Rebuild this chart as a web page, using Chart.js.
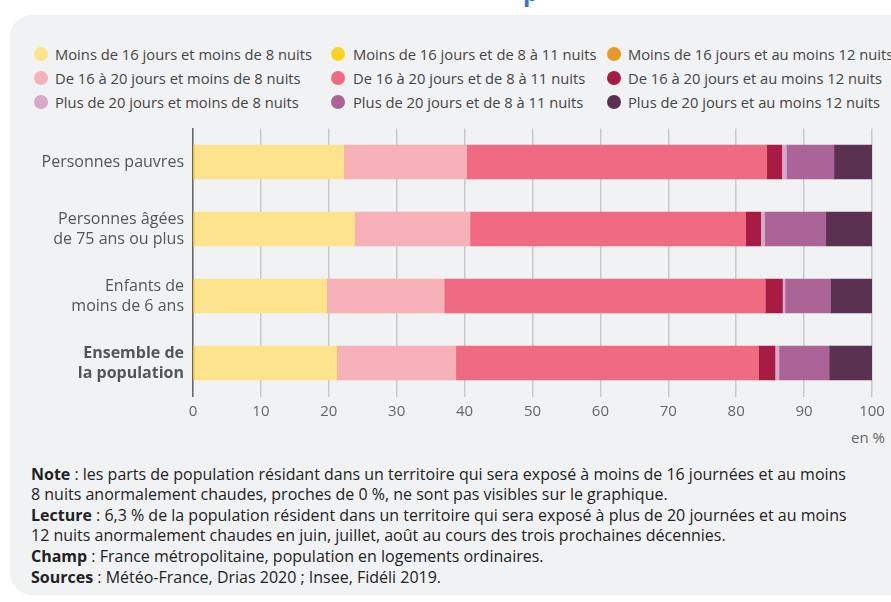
<!DOCTYPE html>
<html lang="fr">
<head>
  <meta charset="UTF-8">
  <title>Exposition aux journées et nuits anormalement chaudes</title>
  <script src="https://cdn.jsdelivr.net/npm/chart.js"></script>
  <style>
    body { margin: 0; width: 891px; height: 602px; overflow: hidden; background: #fff;
           font-family: "Open Sans", sans-serif; position: relative; }
    #panel { position: absolute; left: 10px; top: 15px; width: 920px; height: 580px;
             background: #f1f2f4; border-radius: 22px; }
    #titleBit { position: absolute; left: 523px; top: -25px; font-size: 24px; font-weight: bold; color: #3b74c6; }
    .leg { position: absolute; height: 20px; line-height: 20px; white-space: nowrap; color: #444; font-size: 15px; }
    .leg .dot { position: absolute; width: 14px; height: 14px; border-radius: 50%; top: 3px; }
    .leg .txt, .note .txt { display: inline-block; transform-origin: left center; }
    .leg .txt { position: absolute; }
    #chartBox { position: absolute; left: 0; top: 120px; }
    #unit { position: absolute; right: 6px; top: 427px; font-size: 15px; color: #666; }
    .note { position: absolute; left: 31px; white-space: nowrap; font-size: 15.5px; color: #222; height: 20px; line-height: 20px; }
  </style>
</head>
<body>
<div id="panel"></div>
<div id="titleBit">p</div>
<div id="legend"></div>
<div id="chartBox"><canvas id="chart" width="891" height="300"></canvas></div>
<div id="unit">en %</div>
<div id="notes"></div>

<script>
  // categories (top to bottom)
  var categories = [
    ['Personnes pauvres'],
    ['Personnes âgées', 'de 75 ans ou plus'],
    ['Enfants de', 'moins de 6 ans'],
    ['Ensemble de', 'la population']
  ];

  // series, in legend order (values in %)
  var seriesLabels = [
    'Moins de 16 jours et moins de 8 nuits',
    'Moins de 16 jours et de 8 à 11 nuits',
    'Moins de 16 jours et au moins 12 nuits',
    'De 16 à 20 jours et moins de 8 nuits',
    'De 16 à 20 jours et de 8 à 11 nuits',
    'De 16 à 20 jours et au moins 12 nuits',
    'Plus de 20 jours et moins de 8 nuits',
    'Plus de 20 jours et de 8 à 11 nuits',
    'Plus de 20 jours et au moins 12 nuits'
  ];
  var seriesColors = ['#fde38e', '#f9d423', '#e89a25', '#f7b1b9', '#f06a82', '#a81b42', '#d9a7c8', '#ab6497', '#5b3152'];

  var moins16Moins8 = [22.0, 23.6, 19.5, 21.0];
  var moins16De8a11 = [0.2, 0.2, 0.2, 0.2];
  var moins16Plus12 = [0, 0, 0, 0];
  var de16a20Moins8 = [18.1, 17.0, 17.3, 17.5];
  var de16a20De8a11 = [44.2, 40.6, 47.3, 44.6];
  var de16a20Plus12 = [2.2, 2.2, 2.5, 2.4];
  var plus20Moins8 = [0.7, 0.6, 0.4, 0.6];
  var plus20De8a11 = [7.0, 9.0, 6.7, 7.4];
  var plus20Plus12 = [5.6, 6.8, 6.1, 6.3];

  var seriesValues = [moins16Moins8, moins16De8a11, moins16Plus12, de16a20Moins8, de16a20De8a11,
                      de16a20Plus12, plus20Moins8, plus20De8a11, plus20Plus12];

  // the thin gold sliver sits at the very left of each bar
  var stackOrder = [1, 0, 2, 3, 4, 5, 6, 7, 8];

  var xTicks = [0, 10, 20, 30, 40, 50, 60, 70, 80, 90, 100];

  // html legend, 3 columns
  var legendCols = [[41, 55], [338, 353], [614, 628]];
  var legendRows = [44, 68, 92];
  var legendEl = document.getElementById('legend');
  seriesLabels.forEach(function(label, i) {
    var item = document.createElement('div');
    item.className = 'leg';
    item.style.left = '0px';
    item.style.top = legendRows[Math.floor(i / 3)] + 'px';
    var col = legendCols[i % 3];
    item.innerHTML = '<span class="dot" style="left:' + (col[0] - 7) + 'px;background:' + seriesColors[i] + '"></span>' +
      '<span class="txt" style="left:' + col[1] + 'px">' + label + '</span>';
    legendEl.appendChild(item);
  });

  var noteLines = [
    '<b>Note</b> : les parts de population résidant dans un territoire qui sera exposé à moins de 16 journées et au moins',
    '8 nuits anormalement chaudes, proches de 0 %, ne sont pas visibles sur le graphique.',
    '<b>Lecture</b> : 6,3 % de la population résident dans un territoire qui sera exposé à plus de 20 journées et au moins',
    '12 nuits anormalement chaudes en juin, juillet, août au cours des trois prochaines décennies.',
    '<b>Champ</b> : France métropolitaine, population en logements ordinaires.',
    '<b>Sources</b> : Météo-France, Drias 2020 ; Insee, Fidéli 2019.'
  ];
  var noteTops = [464, 484, 505, 525, 546, 567];
  var notesEl = document.getElementById('notes');
  noteLines.forEach(function(line, i) {
    var d = document.createElement('div');
    d.className = 'note';
    d.style.top = noteTops[i] + 'px';
    d.innerHTML = '<span class="txt">' + line + '</span>';
    notesEl.appendChild(d);
  });

  // squeeze text to mimic the condensed face of the original
  var legTxt = document.querySelectorAll('.leg .txt');
  var kLeg = 257 / legTxt[0].getBoundingClientRect().width;
  legTxt.forEach(function(t) { t.style.transform = 'scaleX(' + kLeg + ')'; });
  var noteTxt = document.querySelectorAll('.note .txt');
  var kNote = 815 / noteTxt[0].getBoundingClientRect().width;
  noteTxt.forEach(function(t) { t.style.transform = 'scaleX(' + kNote + ')'; });

  var chartCtx = document.getElementById('chart').getContext('2d');
  new Chart(chartCtx, {
    type: 'bar',
    data: {
      labels: categories,
      datasets: stackOrder.map(function(i) {
        return {
          label: seriesLabels[i],
          data: seriesValues[i],
          backgroundColor: seriesColors[i],
          borderWidth: 0,
          barThickness: 34
        };
      })
    },
    options: {
      indexAxis: 'y',
      responsive: false,
      animation: false,
      layout: { padding: { top: 8.5, right: 19, left: 0, bottom: 0 } },
      plugins: { legend: { display: false }, tooltip: { enabled: false } },
      scales: {
        x: {
          stacked: true,
          min: 0,
          max: 100,
          afterBuildTicks: function(s) { s.ticks = xTicks.map(function(v) { return { value: v }; }); },
          ticks: { color: '#666', padding: 6, font: { family: 'Open Sans', size: 15 } },
          grid: { color: '#c9c9c9', lineWidth: 1.5, drawTicks: false },
          border: { display: false },
          afterFit: function(s) { s.height = 23.5; }
        },
        y: {
          stacked: true,
          grid: { display: false, drawTicks: false },
          border: { color: '#666', width: 1.5 },
          ticks: {
            color: '#555',
            padding: 9,
            font: function(c) {
              return { family: 'Open Sans', size: 16, lineHeight: 1.25, weight: c.index === 3 ? 'bold' : 'normal' };
            }
          },
          afterFit: function(s) {
            s.width = 193;
            s.paddingTop = 0;
            s.paddingBottom = 0;
          }
        }
      }
    }
  });
</script>
</body>
</html>
